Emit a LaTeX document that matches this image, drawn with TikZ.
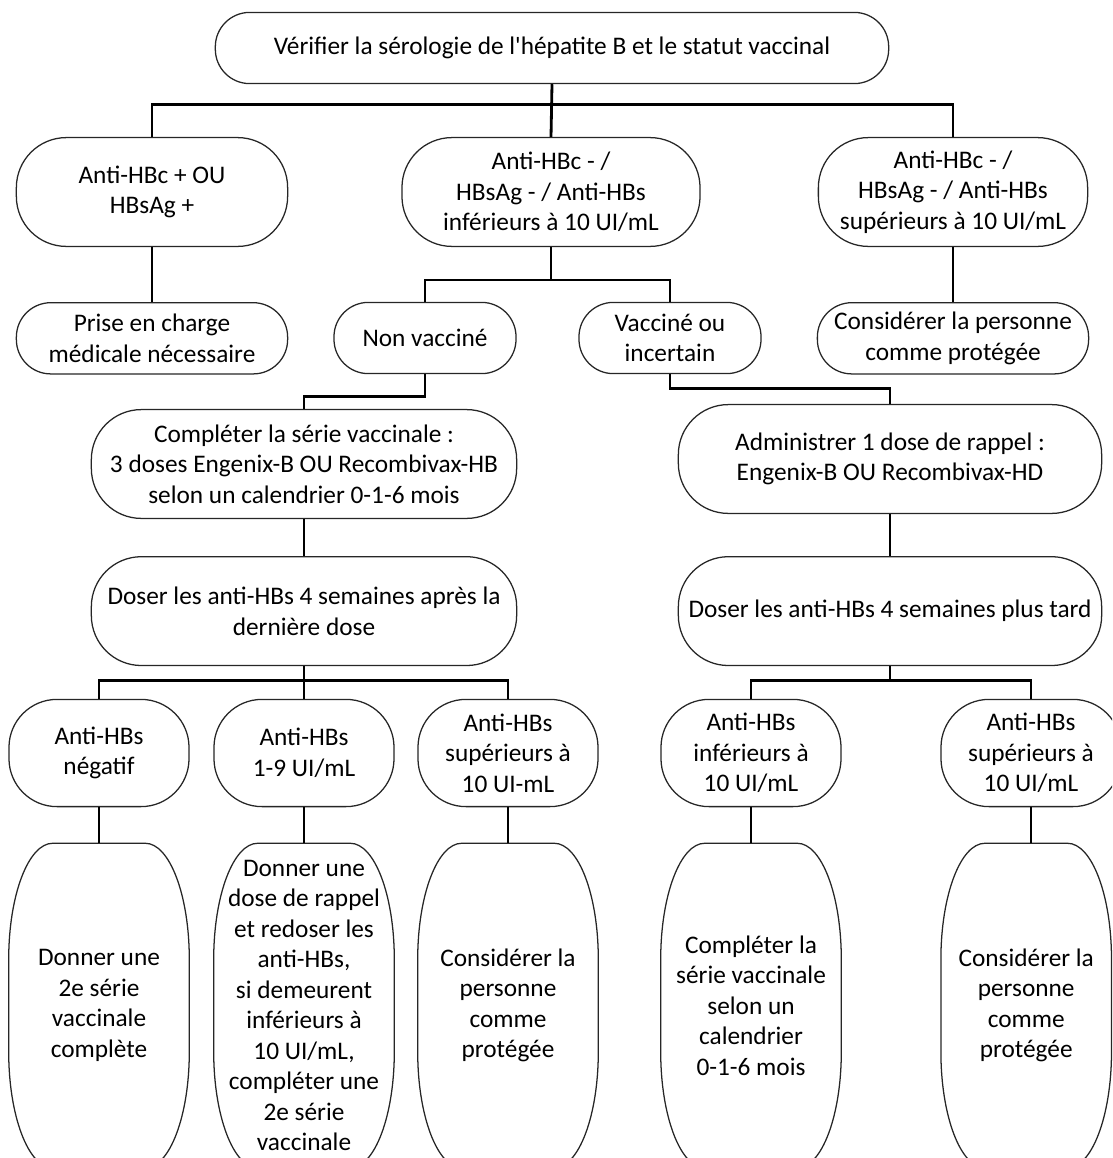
\documentclass[tikz,border=0pt]{standalone}
\usepackage{fontspec}
\setmainfont{Carlito}
\usepackage{tikz}
\usetikzlibrary{positioning,calc}
\newcommand{\boxfont}{\fontsize{18pt}{21.7pt}\selectfont}
% outline of the tall boxes of the last row
\newcommand{\ovaloutline}[1]{%
  \draw[boxline] ([xshift=1.1cm]#1.north west) -- ([xshift=-1.1cm]#1.north east)
    arc[start angle=90, end angle=0, x radius=1.1cm, y radius=2.9cm]
    -- ([yshift=2.9cm]#1.south east)
    arc[start angle=0, end angle=-90, x radius=1.1cm, y radius=2.9cm]
    -- ([xshift=1.1cm]#1.south west)
    arc[start angle=270, end angle=180, x radius=1.1cm, y radius=2.9cm]
    -- ([yshift=-2.9cm]#1.north west)
    arc[start angle=180, end angle=90, x radius=1.1cm, y radius=2.9cm] -- cycle;}

\begin{document}
\begin{tikzpicture}[
    x=0.025cm, y=-0.025cm,
    boxline/.style={draw=black!85, line width=0.9pt},
    box/.style={boxline, rectangle, align=center, inner sep=1pt,
                font=\boxfont, fill=white},
    lowbox/.style={box, minimum height=1.78cm, rounded corners=0.86cm},
    highbox/.style={box, minimum height=2.72cm, rounded corners=1.25cm},
    resbox/.style={box, minimum width=4.5cm, minimum height=2.68cm,
                   rounded corners=1.2cm},
    ovalbox/.style={rectangle, align=center, inner sep=1pt, font=\boxfont,
                    minimum width=4.5cm, minimum height=8.1cm},
    link/.style={line width=2pt, black},
    node distance=1.375cm and 0.8cm
  ]
  \path[use as bounding box, clip] (0,0) rectangle (1112,1158);

  %% First test
  \node[lowbox, minimum width=16.83cm] (verif) at (552,48)
        {Vérifier la sérologie de l\textquotesingle hépatite B et le statut vaccinal};

  %% Serology results
  \node[highbox, minimum width=6.78cm] (hbpos) at (152,192)
        {Anti-HBc + OU\\HBsAg +};
  \node[highbox, minimum width=7.45cm] (hbneg) at (551,192)
        {Anti-HBc - /\\HBsAg - / Anti-HBs\\inférieurs à 10 UI/mL};
  \node[highbox, minimum width=6.73cm] (hbprot) at (953,192)
        {Anti-HBc - /\\HBsAg - / Anti-HBs\\supérieurs à 10 UI/mL};

  %% Second row
  \node[lowbox, minimum width=6.78cm, below=of hbpos] (medic)
        {Prise en charge\\médicale nécessaire};
  \node[lowbox, minimum width=4.55cm] (nonvac) at (425,338) {Non vacciné};
  \node[lowbox, minimum width=4.55cm] (vacinc) at (670,338)
        {Vacciné ou\\incertain};
  \node[lowbox, minimum width=6.78cm, below=of hbprot] (protA)
        {Considérer la personne\\comme protégée};

  %% Vaccination
  \node[highbox, minimum width=10.63cm] (serie) at (304,464)
        {Compléter la série vaccinale :\\3 doses Engenix-B OU Recombivax-HB\\selon un calendrier 0-1-6 mois};
  \node[highbox, minimum width=10.58cm] (rappel) at (890,459)
        {Administrer 1 dose de rappel :\\Engenix-B OU Recombivax-HD};
  \node[highbox, minimum width=10.63cm, below=0.925cm of serie] (dosA)
        {Doser les anti-HBs 4 semaines après la\\dernière dose};
  \node[highbox, minimum width=10.58cm, below=1.05cm of rappel] (dosB)
        {Doser les anti-HBs 4 semaines plus tard};

  %% Anti-HBs results
  \node[resbox] (res1) at (99,753) {Anti-HBs\\négatif};
  \node[resbox] (res2) at (304,753) {Anti-HBs\\1-9 UI/mL};
  \node[resbox] (res3) at (508,753) {Anti-HBs\\supérieurs à\\10 UI-mL};
  \node[resbox] (res4) at (751,753) {Anti-HBs\\inférieurs à\\10 UI/mL};
  \node[resbox] (res5) at (1031,753) {Anti-HBs\\supérieurs à\\10 UI/mL};

  %% Actions
  \node[ovalbox, below=0.9cm of res1] (act1)
        {Donner une\\2e série\\vaccinale\\complète};
  \node[ovalbox, below=0.9cm of res2] (act2)
        {Donner une\\dose de rappel\\et redoser les\\anti-HBs,\\si demeurent\\inférieurs à\\10 UI/mL,\\compléter une\\2e série\\vaccinale};
  \node[ovalbox, below=0.9cm of res3] (act3)
        {Considérer la\\personne\\comme\\protégée};
  \node[ovalbox, below=0.9cm of res4] (act4)
        {Compléter la\\série vaccinale\\selon un\\calendrier\\0-1-6 mois};
  \node[ovalbox, minimum width=4.25cm, below=0.9cm of res5, xshift=-0.12cm] (act5)
        {Considérer la\\personne\\comme\\protégée};
  \foreach \i in {1,...,5} {\ovaloutline{act\i}}

  %% Connectors
  \draw[link] (verif.south) -- ++(0,20) -| (hbpos.north);
  \draw[link] (verif.south) -- ++(0,20) -| (hbprot.north);
  \draw[link] (verif.south) -- (hbneg.north);
  \draw[link] (hbpos) -- (medic);
  \draw[link] (hbprot) -- (protA);
  \draw[link] (hbneg.south) -- ++(0,33) -| (nonvac.north);
  \draw[link] (hbneg.south) -- ++(0,33) -| (vacinc.north);
  \draw[link] (nonvac.south) -- ++(0,22) -| (serie.north);
  \draw[link] (vacinc.south) -- ++(0,14) -| (rappel.north);
  \draw[link] (serie) -- (dosA);
  \draw[link] (rappel) -- (dosB);
  \foreach \r in {res1,res2,res3}
    \draw[link] (dosA.south) -- ++(0,14) -| (\r.north);
  \foreach \r in {res4,res5}
    \draw[link] (dosB.south) -- ++(0,14) -| (\r.north);
  \foreach \i in {1,...,5}
    \draw[link] (res\i.south) -- (res\i.south |- act\i.north);

\end{tikzpicture}
\end{document}
